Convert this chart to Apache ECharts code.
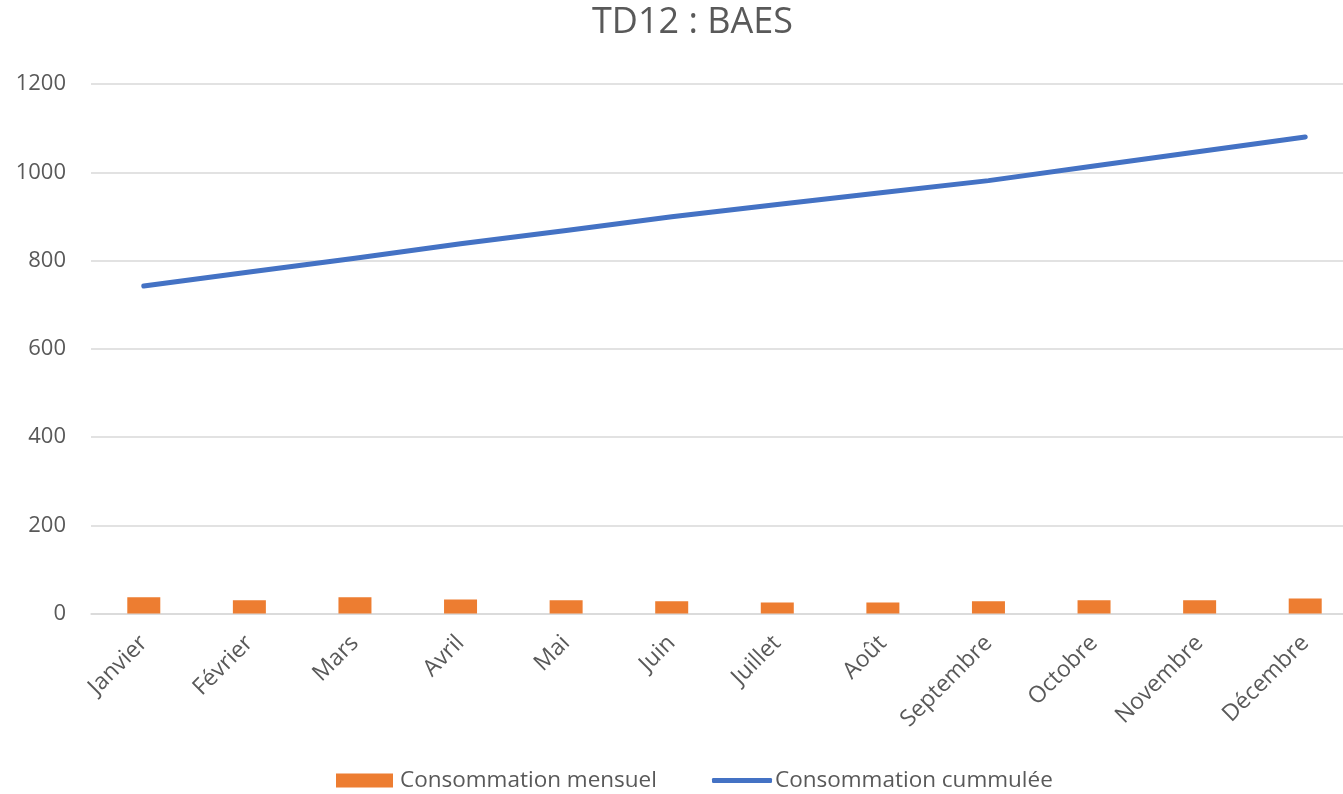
<!DOCTYPE html>
<html>
<head>
<meta charset="utf-8">
<script src="https://cdn.jsdelivr.net/npm/echarts@6/dist/echarts.min.js"></script>
<style>
html,body{margin:0;padding:0;background:#fff;overflow:hidden;width:1343px;height:794px;}
#chart{width:1358px;height:794px;}
</style>
</head>
<body>
<div id="chart"></div>
<script>
const titleText = 'TD12 : BAES';
const categories = ['Janvier','Février','Mars','Avril','Mai','Juin','Juillet','Août','Septembre','Octobre','Novembre','Décembre'];
const monthly = [37, 30, 37, 32, 30, 28, 25, 25, 28, 30, 30, 34];
const cumulative = [742, 774, 805, 838, 868, 899, 927, 954, 981, 1014, 1047, 1080];
const seriesNames = ['Consommation mensuel', 'Consommation cummulée'];

const FONT = 'Open Sans';
const GREY = '#595959';
const chart = echarts.init(document.getElementById('chart'));
chart.setOption({
  animation: false,
  backgroundColor: '#ffffff',
  textStyle: { fontFamily: FONT },
  title: {
    text: titleText, left: 587, top: 0,
    textStyle: { fontFamily: FONT, fontSize: 36, fontWeight: 'normal', color: GREY }
  },
  legend: [
    {
      data: [{ name: seriesNames[0], icon: 'rect' }],
      left: 336, top: 769, itemWidth: 57, itemHeight: 14, padding: 0,
      textStyle: { fontFamily: FONT, fontSize: 22.5, color: GREY, padding: [0,0,0,2] }
    },
    {
      data: [{ name: seriesNames[1], icon: 'roundRect' }],
      left: 712, top: 769, itemWidth: 60, itemHeight: 5, padding: 0,
      textStyle: { fontFamily: FONT, fontSize: 22.5, color: GREY, padding: [0,0,0,-2] }
    }
  ],
  grid: { left: 91, right: 0, top: 84, bottom: 180.5, containLabel: false },
  xAxis: {
    type: 'category', data: categories, boundaryGap: true,
    axisLine: { show: true, lineStyle: { color: '#D9D9D9', width: 1.5 } },
    axisTick: { show: false },
    axisLabel: { rotate: 45, fontFamily: FONT, fontSize: 23, color: GREY, margin: 26, interval: 0 }
  },
  yAxis: {
    type: 'value', min: 0, max: 1200, interval: 200,
    axisLine: { show: false }, axisTick: { show: false },
    splitLine: { lineStyle: { color: '#D9D9D9', width: 1.5 } },
    axisLabel: { fontFamily: FONT, fontSize: 22, color: GREY, margin: 25, formatter: function (v) { return String(v); } }
  },
  series: [
    {
      name: seriesNames[0], type: 'bar', data: monthly, barWidth: 33,
      itemStyle: { color: '#ED7D31' }
    },
    {
      name: seriesNames[1], type: 'line', data: cumulative,
      showSymbol: false, symbol: 'none',
      lineStyle: { color: '#4472C4', width: 5, cap: 'round', join: 'round' },
      itemStyle: { color: '#4472C4' }
    }
  ]
});
</script>
</body>
</html>
